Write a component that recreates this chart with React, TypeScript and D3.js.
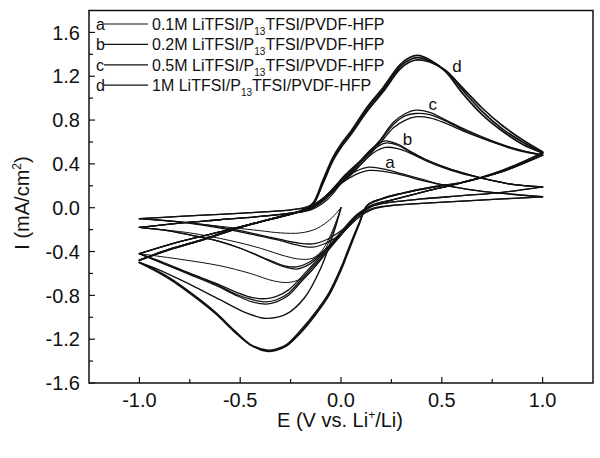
import React from 'react';
import * as d3 from 'd3';

// axis ticks
const X_TICKS = [-1.0, -0.5, 0.0, 0.5, 1.0];
const X_TICK_LABELS = ['-1.0', '-0.5', '0.0', '0.5', '1.0'];
const X_MINOR = [-0.75, -0.25, 0.25, 0.75];
const Y_TICKS = [-1.6, -1.2, -0.8, -0.4, 0.0, 0.4, 0.8, 1.2, 1.6];
const Y_TICK_LABELS = ['-1.6', '-1.2', '-0.8', '-0.4', '0.0', '0.4', '0.8', '1.2', '1.6'];
const Y_MINOR = [-1.4, -1.0, -0.6, -0.2, 0.2, 0.6, 1.0, 1.4];

// legend
const KEYS = ['a', 'b', 'c', 'd'];
const CONCS = ['0.1M', '0.2M', '0.5M', '1M'];

// curve letter positions [E, I]
const LABEL_E = [0.243, 0.33, 0.455, 0.575];
const LABEL_I = [0.36, 0.57, 0.89, 1.235];

// a: 0.1M
const A_INIT_E = [0.0, -0.05, -0.12, -0.2, -0.3, -0.4, -0.55, -0.75, -1.0];
const A_INIT_I = [0.0, -0.10, -0.19, -0.23, -0.23, -0.21, -0.18, -0.14, -0.10];
const A_FWD_E = [-1.0, -0.8, -0.6, -0.4, -0.25, -0.15, -0.08, 0.0, 0.07, 0.14, 0.22, 0.3, 0.4, 0.5, 0.62, 0.8, 1.0];
const A_FWD_I = [
  [-0.10, -0.08, -0.06, -0.04, -0.02, 0.02, 0.10, 0.25, 0.33, 0.37, 0.35, 0.31, 0.26, 0.21, 0.17, 0.13, 0.10],
  [-0.10, -0.08, -0.06, -0.04, -0.02, 0.01, 0.08, 0.22, 0.30, 0.34, 0.33, 0.30, 0.25, 0.21, 0.17, 0.13, 0.10],
];
const A_REV_E = [1.0, 0.8, 0.6, 0.4, 0.25, 0.15, 0.08, 0.0, -0.07, -0.14, -0.22, -0.3, -0.4, -0.5, -0.62, -0.8, -1.0];
const A_REV_I = [
  [0.10, 0.08, 0.06, 0.04, 0.02, -0.02, -0.10, -0.24, -0.32, -0.36, -0.34, -0.30, -0.26, -0.22, -0.18, -0.13, -0.10],
  [0.10, 0.08, 0.06, 0.04, 0.02, -0.01, -0.08, -0.21, -0.29, -0.33, -0.32, -0.29, -0.25, -0.21, -0.17, -0.13, -0.10],
];

// b: 0.2M
const B_INIT_E = [0.0, -0.04, -0.09, -0.14, -0.2, -0.28, -0.4, -0.55, -0.75, -1.0];
const B_INIT_I = [0.0, -0.20, -0.38, -0.46, -0.47, -0.44, -0.37, -0.30, -0.23, -0.18];
const B_FWD_E = [-1.0, -0.8, -0.6, -0.4, -0.25, -0.15, -0.07, 0.01, 0.09, 0.16, 0.22, 0.28, 0.34, 0.42, 0.5, 0.6, 0.72, 0.86, 1.0];
const B_FWD_I = [
  [-0.18, -0.14, -0.11, -0.08, -0.05, -0.01, 0.10, 0.28, 0.42, 0.55, 0.61, 0.58, 0.52, 0.44, 0.38, 0.32, 0.26, 0.21, 0.19],
  [-0.18, -0.14, -0.11, -0.08, -0.05, -0.01, 0.09, 0.27, 0.41, 0.53, 0.59, 0.57, 0.51, 0.44, 0.38, 0.32, 0.26, 0.21, 0.19],
  [-0.18, -0.14, -0.11, -0.08, -0.05, -0.02, 0.07, 0.24, 0.38, 0.50, 0.55, 0.54, 0.50, 0.43, 0.37, 0.31, 0.26, 0.21, 0.19],
];
const B_REV_E = [1.0, 0.8, 0.6, 0.4, 0.25, 0.15, 0.07, -0.01, -0.09, -0.16, -0.22, -0.28, -0.34, -0.42, -0.5, -0.6, -0.72, -0.86, -1.0];
const B_REV_I = [
  [0.19, 0.14, 0.11, 0.08, 0.05, 0.01, -0.10, -0.27, -0.41, -0.52, -0.56, -0.54, -0.50, -0.43, -0.37, -0.31, -0.26, -0.21, -0.18],
  [0.19, 0.14, 0.11, 0.08, 0.05, 0.01, -0.09, -0.26, -0.40, -0.50, -0.54, -0.53, -0.49, -0.43, -0.37, -0.31, -0.26, -0.21, -0.18],
];

// c: 0.5M
const C_INIT_E = [0.0, -0.04, -0.1, -0.17, -0.25, -0.33, -0.45, -0.6, -0.8, -1.0];
const C_INIT_I = [0.0, -0.22, -0.46, -0.62, -0.68, -0.67, -0.60, -0.53, -0.47, -0.42];
const C_FWD_E = [-1.0, -0.8, -0.6, -0.4, -0.25, -0.15, -0.08, 0.0, 0.05, 0.12, 0.19, 0.26, 0.32, 0.37, 0.44, 0.52, 0.62, 0.75, 0.88, 1.0];
const C_FWD_I = [
  [-0.42, -0.31, -0.22, -0.13, -0.06, 0.0, 0.10, 0.24, 0.33, 0.47, 0.61, 0.78, 0.86, 0.89, 0.87, 0.80, 0.71, 0.61, 0.53, 0.48],
  [-0.42, -0.31, -0.22, -0.13, -0.06, 0.0, 0.09, 0.23, 0.32, 0.46, 0.60, 0.76, 0.84, 0.86, 0.85, 0.79, 0.70, 0.60, 0.53, 0.48],
  [-0.42, -0.31, -0.22, -0.13, -0.06, -0.01, 0.08, 0.22, 0.30, 0.44, 0.58, 0.73, 0.80, 0.83, 0.82, 0.77, 0.69, 0.60, 0.52, 0.48],
];
const C_REV_E = [1.0, 0.8, 0.6, 0.4, 0.25, 0.15, 0.08, 0.0, -0.05, -0.12, -0.19, -0.26, -0.32, -0.37, -0.44, -0.52, -0.62, -0.75, -0.88, -1.0];
const C_REV_I = [
  [0.48, 0.33, 0.23, 0.14, 0.07, 0.02, -0.08, -0.25, -0.36, -0.52, -0.66, -0.80, -0.86, -0.88, -0.86, -0.80, -0.71, -0.61, -0.51, -0.42],
  [0.48, 0.33, 0.23, 0.14, 0.07, 0.02, -0.07, -0.24, -0.35, -0.50, -0.64, -0.78, -0.84, -0.86, -0.84, -0.79, -0.70, -0.60, -0.51, -0.42],
  [0.48, 0.33, 0.23, 0.14, 0.07, 0.02, -0.06, -0.22, -0.33, -0.48, -0.62, -0.75, -0.81, -0.83, -0.82, -0.77, -0.69, -0.60, -0.50, -0.42],
];

// d: 1M
const D_INIT_E = [0.0, -0.04, -0.1, -0.18, -0.27, -0.37, -0.47, -0.6, -0.75, -0.9, -1.0];
const D_INIT_I = [0.0, -0.25, -0.55, -0.82, -0.97, -1.01, -0.96, -0.84, -0.70, -0.57, -0.50];
const D_FWD_E = [-1.0, -0.85, -0.7, -0.5, -0.3, -0.2, -0.14, -0.09, -0.04, 0.0, 0.05, 0.13, 0.21, 0.29, 0.34, 0.38, 0.44, 0.52, 0.6, 0.7, 0.8, 0.9, 1.0];
const D_FWD_I = [
  [-0.48, -0.38, -0.30, -0.18, -0.08, -0.03, 0.04, 0.25, 0.46, 0.58, 0.70, 0.92, 1.10, 1.30, 1.37, 1.39, 1.35, 1.24, 1.05, 0.85, 0.70, 0.58, 0.50],
  [-0.48, -0.38, -0.30, -0.18, -0.08, -0.03, 0.03, 0.23, 0.44, 0.56, 0.68, 0.90, 1.08, 1.28, 1.35, 1.37, 1.34, 1.25, 1.08, 0.88, 0.72, 0.60, 0.50],
  [-0.48, -0.38, -0.30, -0.18, -0.08, -0.03, 0.03, 0.22, 0.43, 0.55, 0.67, 0.88, 1.06, 1.26, 1.33, 1.35, 1.33, 1.25, 1.10, 0.91, 0.75, 0.62, 0.51],
];
const D_REV_E = [1.0, 0.8, 0.6, 0.46, 0.3, 0.2, 0.13, 0.09, 0.045, 0.0, -0.06, -0.12, -0.2, -0.27, -0.32, -0.37, -0.45, -0.53, -0.62, -0.7, -0.86, -1.0];
const D_REV_I = [
  [0.50, 0.34, 0.23, 0.19, 0.13, 0.08, 0.02, -0.15, -0.36, -0.57, -0.80, -0.96, -1.14, -1.26, -1.30, -1.31, -1.25, -1.12, -0.96, -0.84, -0.63, -0.50],
  [0.50, 0.34, 0.23, 0.19, 0.13, 0.08, 0.02, -0.14, -0.34, -0.55, -0.78, -0.94, -1.12, -1.25, -1.29, -1.30, -1.25, -1.13, -0.97, -0.85, -0.64, -0.50],
];

const SERIES = [
  { init: [A_INIT_E, A_INIT_I], fwdE: A_FWD_E, fwd: A_FWD_I, revE: A_REV_E, rev: A_REV_I, sw: 1.3 },
  { init: [B_INIT_E, B_INIT_I], fwdE: B_FWD_E, fwd: B_FWD_I, revE: B_REV_E, rev: B_REV_I, sw: 1.3 },
  { init: [C_INIT_E, C_INIT_I], fwdE: C_FWD_E, fwd: C_FWD_I, revE: C_REV_E, rev: C_REV_I, sw: 1.3 },
  { init: [D_INIT_E, D_INIT_I], fwdE: D_FWD_E, fwd: D_FWD_I, revE: D_REV_E, rev: D_REV_I, sw: 1.7 },
];

const W = 600;
const H = 458;
const M = { left: 89, right: 593, top: 10.5, bottom: 383 };
const FONT = "'Liberation Sans', Arial, Helvetica, sans-serif";

const zip = (es: number[], is: number[]) => es.map((e, i) => [e, is[i]] as [number, number]);

export default function App() {
  const x = d3.scaleLinear().domain([-1.25, 1.25]).range([M.left, M.right]);
  const y = d3.scaleLinear().domain([-1.6, 1.8]).range([M.bottom, M.top]);
  const line = d3.line<[number, number]>()
    .x(d => x(d[0]))
    .y(d => y(d[1]))
    .curve(d3.curveCatmullRom.alpha(0.5));

  const paths: { d: string; sw: number }[] = [];
  SERIES.forEach(s => {
    paths.push({ d: line(zip(s.init[0], s.init[1])) || '', sw: s.sw - 0.3 });
    s.fwd.forEach(c => paths.push({ d: line(zip(s.fwdE, c)) || '', sw: s.sw }));
    s.rev.forEach(c => paths.push({ d: line(zip(s.revE, c)) || '', sw: s.sw }));
  });

  return (
    <svg width={W} height={H} style={{ position: 'absolute', left: 0, top: 0, background: '#fff' }}
      fontFamily={FONT}>
      <rect x={0} y={0} width={W} height={H} fill="#fff" />

      {/* curves */}
      <g fill="none" stroke="#111" strokeLinejoin="round" strokeLinecap="round">
        {paths.map((p, i) => <path key={i} d={p.d} strokeWidth={p.sw} />)}
      </g>

      {/* curve letters */}
      {KEYS.map((k, i) => (
        <text key={k} x={x(LABEL_E[i])} y={y(LABEL_I[i])} fontSize={17} textAnchor="middle" fill="#111">{k}</text>
      ))}

      {/* frame */}
      <rect x={M.left} y={M.top} width={M.right - M.left} height={M.bottom - M.top}
        fill="none" stroke="#111" strokeWidth={1.5} />

      {/* ticks */}
      <g stroke="#111" strokeWidth={1.2}>
        {X_TICKS.map(t => <line key={t} x1={x(t)} x2={x(t)} y1={M.bottom} y2={M.bottom - 6} />)}
        {X_MINOR.map(t => <line key={t} x1={x(t)} x2={x(t)} y1={M.bottom} y2={M.bottom - 4} />)}
        {Y_TICKS.map(t => <line key={t} x1={M.left} x2={M.left + 6} y1={y(t)} y2={y(t)} />)}
        {Y_MINOR.map(t => <line key={t} x1={M.left} x2={M.left + 4} y1={y(t)} y2={y(t)} />)}
      </g>
      {X_TICKS.map((t, i) => (
        <text key={t} x={x(t)} y={407} fontSize={20} textAnchor="middle" fill="#111">{X_TICK_LABELS[i]}</text>
      ))}
      {Y_TICKS.map((t, i) => (
        <text key={t} x={80} y={y(t)} dy="0.36em" fontSize={20} textAnchor="end" fill="#111">{Y_TICK_LABELS[i]}</text>
      ))}

      {/* axis titles */}
      <text x={340} y={427} fontSize={20} textAnchor="middle" fill="#111">
        E (V vs. Li<tspan fontSize={12} dy={-8}>+</tspan><tspan dy={8}>/Li)</tspan>
      </text>
      <text transform="translate(29,203) rotate(-90)" fontSize={20} textAnchor="middle" fill="#111">
        I (mA/cm<tspan fontSize={12} dy={-8}>2</tspan><tspan dy={8}>)</tspan>
      </text>

      {/* legend */}
      {CONCS.map((c, i) => {
        const by = 30 + i * 20.4;
        return (
          <g key={c} fill="#111">
            <text x={96} y={by} fontSize={16}>{KEYS[i]}</text>
            <line x1={104} x2={148} y1={by - 6} y2={by - 6} stroke="#111" strokeWidth={1.2} />
            <text x={152} y={by} fontSize={16}>
              {c} LiTFSI/P<tspan fontSize={10} dy={5}>13</tspan><tspan dy={-5}>TFSI/PVDF-HFP</tspan>
            </text>
          </g>
        );
      })}
    </svg>
  );
}
